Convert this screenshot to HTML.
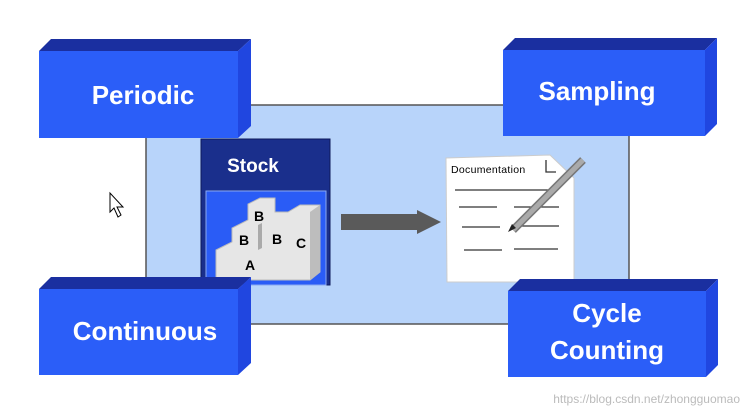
<!DOCTYPE html>
<html><head><style>body{margin:0;background:#fff}svg{display:block}</style></head><body>
<svg width="750" height="413" viewBox="0 0 750 413" xmlns="http://www.w3.org/2000/svg" font-family="Liberation Sans, sans-serif">
<rect x="146" y="105" width="483" height="219" fill="#b8d4fa" stroke="#555" stroke-width="1.5"/>
<!-- stock -->
<rect x="201" y="139" width="129" height="146" fill="#1a2f8c" stroke="#0e1a5a"/>
<text x="253" y="172" font-size="19" font-weight="bold" fill="#fff" text-anchor="middle">Stock</text>
<rect x="206" y="191" width="120" height="94" fill="#2a5cf6" stroke="#8aa8f0"/>
<g fill="#e6e6e6" stroke="#bbb">
<polygon points="216,250 232,242 232,228 248,220 248,204 260,198 275,198 275,212 288,212 300,205 320,205 320,272 310,280 216,280"/>
</g>
<polygon points="310,212 320,205 320,272 310,280" fill="#bdbdbd"/>
<polygon points="258,225 262,223 262,248 258,250" fill="#aaa"/>
<g font-size="14" font-weight="bold" fill="#000"><text x="254" y="221">B</text><text x="239" y="245">B</text><text x="272" y="244">B</text><text x="296" y="248">C</text><text x="245" y="270">A</text></g>
<!-- arrow -->
<polygon points="341,214 417,214 417,210 441,222 417,234 417,230 341,230" fill="#5a5a5a"/>
<!-- document -->
<polygon points="446,158 550,155 574,178 574,282 447,282" fill="#fff" stroke="#ccc"/>
<text x="451" y="173" font-size="10.5" fill="#000" letter-spacing=".3">Documentation</text>
<g stroke="#333" stroke-width="1.3"><line x1="455" y1="190" x2="548" y2="190"/><line x1="459" y1="207" x2="497" y2="207"/><line x1="514" y1="207" x2="559" y2="207"/><line x1="462" y1="227" x2="500" y2="227"/><line x1="521" y1="226" x2="559" y2="226"/><line x1="464" y1="250" x2="502" y2="250"/><line x1="514" y1="249" x2="558" y2="249"/><path d="M546 160 V172 H556" fill="none"/></g>
<line x1="513" y1="230" x2="583" y2="160" stroke="#777" stroke-width="8"/>
<line x1="513" y1="230" x2="583" y2="160" stroke="#aaa" stroke-width="5"/>
<polygon points="508,232 512,224 516,228" fill="#222"/>
<!-- cursor -->
<polygon points="110,193 110,212 114,208 118,217 121,215 117,207 123,207" fill="#fff" stroke="#000"/>
<!-- boxes -->
<g>
<polygon points="39,51 51,39 251,39 238,51" fill="#1a2fa0"/><polygon points="238,51 251,39 251,126 238,138" fill="#2046e0"/><rect x="39" y="51" width="199" height="87" fill="#2b5ef8"/>
<text x="143" y="104" font-size="26" font-weight="bold" fill="#fff" text-anchor="middle">Periodic</text>
</g>
<g>
<polygon points="503,50 515,38 717,38 705,50" fill="#1a2fa0"/><polygon points="705,50 717,38 717,124 705,136" fill="#2046e0"/><rect x="503" y="50" width="202" height="86" fill="#2b5ef8"/>
<text x="597" y="100" font-size="26" font-weight="bold" fill="#fff" text-anchor="middle">Sampling</text>
</g>
<g>
<polygon points="39,289 51,277 251,277 238,289" fill="#1a2fa0"/><polygon points="238,289 251,277 251,363 238,375" fill="#2046e0"/><rect x="39" y="289" width="199" height="86" fill="#2b5ef8"/>
<text x="145" y="340" font-size="26" font-weight="bold" fill="#fff" text-anchor="middle">Continuous</text>
</g>
<g>
<polygon points="508,291 520,279 718,279 706,291" fill="#1a2fa0"/><polygon points="706,291 718,279 718,365 706,377" fill="#2046e0"/><rect x="508" y="291" width="198" height="86" fill="#2b5ef8"/>
<text x="607" y="322" font-size="26" font-weight="bold" fill="#fff" text-anchor="middle">Cycle</text>
<text x="607" y="359" font-size="26" font-weight="bold" fill="#fff" text-anchor="middle">Counting</text>
</g>
<text x="740" y="403" font-size="12" fill="#bbb" text-anchor="end">https://blog.csdn.net/zhongguomao</text>
</svg>
</body></html>
